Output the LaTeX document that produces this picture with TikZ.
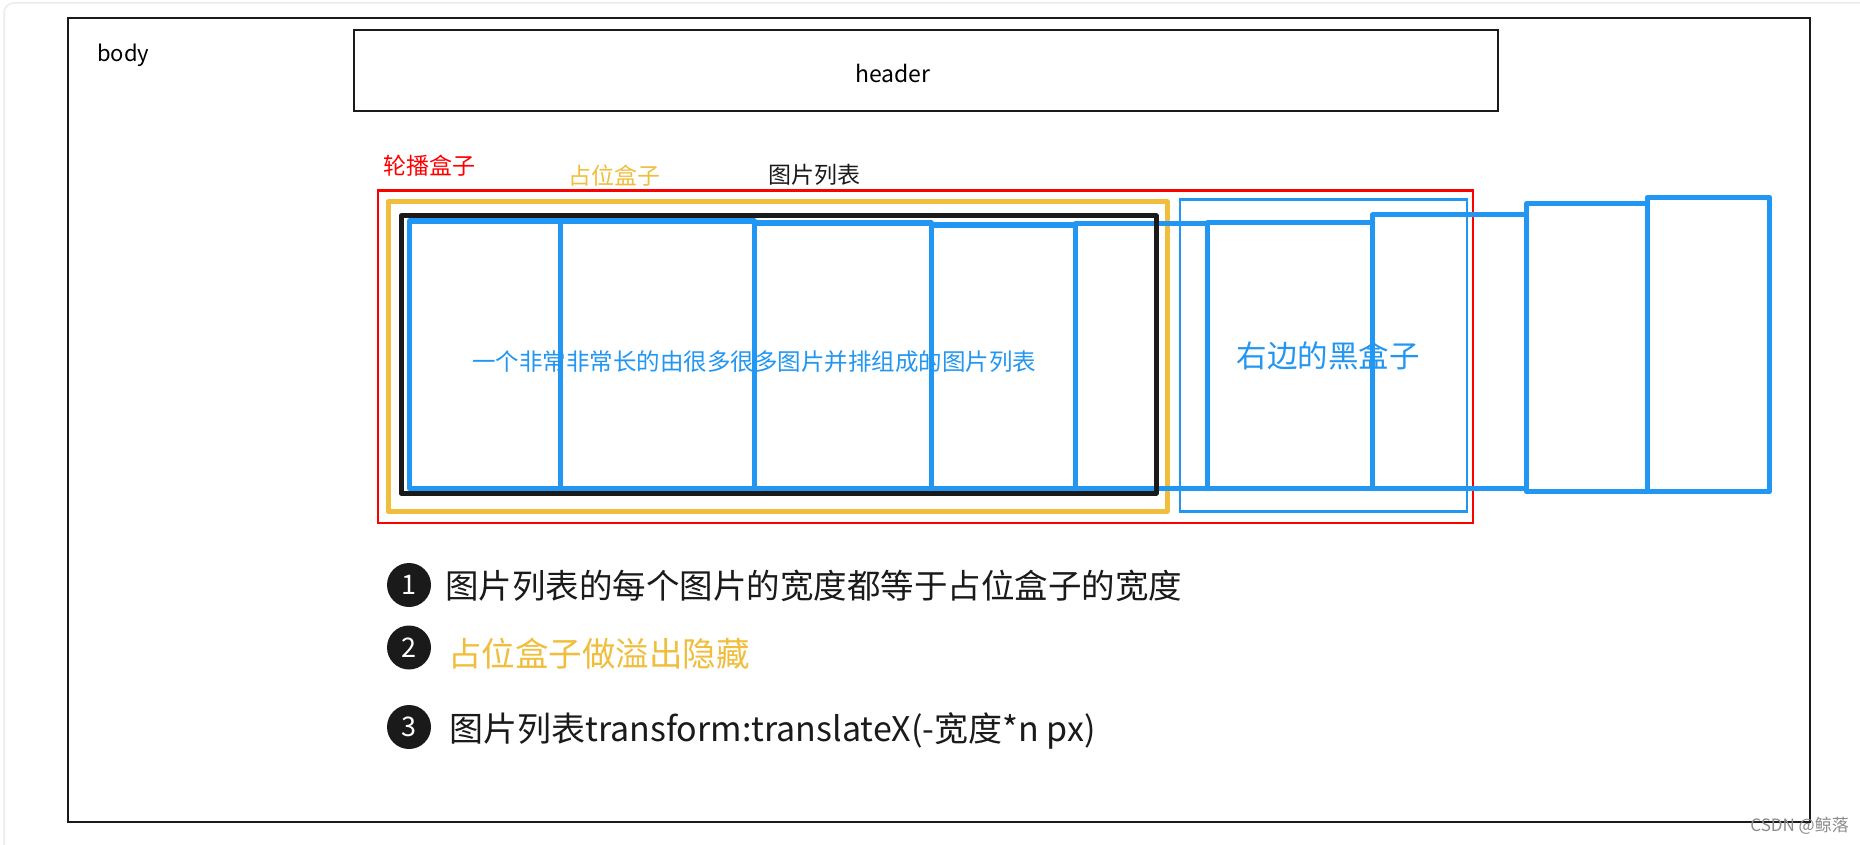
\documentclass[tikz,border=0pt]{standalone}
\usepackage{fontspec}
\newfontfamily\cjk{Noto Sans CJK SC}
\definecolor{pblue}{RGB}{33,150,243}
\definecolor{pyellow}{RGB}{240,190,60}
\definecolor{pred}{RGB}{255,0,0}
\definecolor{pblack}{RGB}{26,26,26}
\begin{document}
\begin{tikzpicture}[x=1pt,y=-1pt,
  txt/.style={font=\cjk\fontsize{#1}{#1}\selectfont, inner sep=0pt},
  frame/.style={draw=pblack, line width=2.5pt},
  panel/.style={draw=pblue, line width=5pt, line join=round},
  num/.style={circle, fill=pblack, minimum size=44pt, inner sep=0pt, text=white, font=\cjk\fontsize{27}{27}\selectfont}
]
\useasboundingbox (0,0) rectangle (1860,845);
\fill[white] (0,0) rectangle (1860,845);
% faint screenshot frame
\draw[black!8, line width=1.5pt, rounded corners=10pt] (4,3) rectangle (1880,870);
% body
\draw[frame] (68,18) rectangle (1810,822);
\node[txt=22, anchor=west] (body) at (97,55) {body};
% header
\draw[frame] (354,30) rectangle (1498,111);
\node[txt=23] (header) at (893,73) {header};
% labels
\node[txt=23, text=pred] (lunbo) at (429,166) {轮播盒子};
\node[txt=23, text=pyellow] (zhanwei) at (614,176) {占位盒子};
\node[txt=23, text=pblack] (liebiao) at (814,175) {图片列表};
% yellow placeholder box
\draw[pyellow, line width=5pt, line join=round] (388,201.7) rectangle (1167,511.7);
% red carousel box
\draw[pred, line width=2.5pt] (378,190.5) rectangle (1473,523);
% thin blue right box
\draw[pblue, line width=2.5pt] (1180,199.3) rectangle (1467,511.7);
% picture panels
\foreach \l/\r/\t/\b in {409.5/560.5/221/488.5, 560.5/754.4/221/488.5, 754.4/931.4/223/488.5, 931.4/1075.8/225/488.5, 1075.8/1207.7/223.5/488.5, 1207.7/1372.4/222.7/488.5, 1372.4/1526.3/215/488.5, 1526.3/1647.4/204/491.7, 1647.4/1769.5/197.3/491.7}
  \draw[panel] (\l,\t) rectangle (\r,\b);
% black picture list box
\draw[pblack, line width=5pt, line join=round] (401,216) rectangle (1156,493);
% texts in boxes
\node[txt=23.5, text=pblue] (longtext) at (754,362) {一个非常非常长的由很多很多图片并排组成的图片列表};
\node[txt=30.5, text=pblue] (rightbox) at (1328,356) {右边的黑盒子};
% notes
\node[num] (c1) at (409,585) {1};
\node[num] (c2) at (409,647.5) {2};
\node[num] (c3) at (409,727) {3};
\node[txt=33.5, text=pblack, anchor=west] (t1) at (445,586) {图片列表的每个图片的宽度都等于占位盒子的宽度};
\node[txt=33.5, text=pyellow, anchor=west] (t2) at (448,654) {占位盒子做溢出隐藏};
\node[txt=34, text=pblack, anchor=west] (t3) at (449,731) {图片列表transform:translateX(-宽度*n px)};
% watermark
\node[txt=17, text=black!45, anchor=east] (wm) at (1849,826) {CSDN @鲸落};
\end{tikzpicture}
\end{document}
